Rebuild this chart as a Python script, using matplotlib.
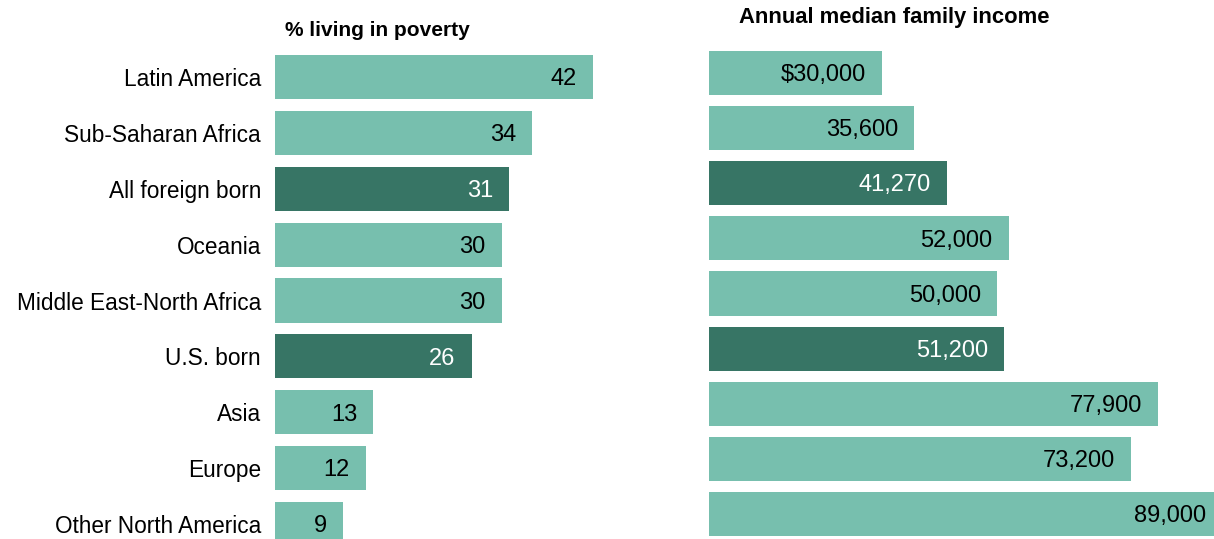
import matplotlib.pyplot as plt
from matplotlib import font_manager

categories = ["Latin America", "Sub-Saharan Africa", "All foreign born", "Oceania",
              "Middle East-North Africa", "U.S. born", "Asia", "Europe",
              "Other North America"]
poverty = [42, 34, 31, 30, 30, 26, 13, 12, 9]
income = [30000, 35600, 41270, 52000, 50000, 51200, 77900, 73200, 89000]
income_labels = ["$30,000", "35,600", "41,270", "52,000", "50,000", "51,200",
                 "77,900", "73,200", "89,000"]
highlight = ["All foreign born", "U.S. born"]

light = "#77bfae"
dark = "#377565"

names = {f.name for f in font_manager.fontManager.ttflist}
font = "Liberation Sans Narrow" if "Liberation Sans Narrow" in names else "Liberation Sans"
plt.rcParams["font.family"] = [font, "DejaVu Sans"]

W, H = 1214, 539
fig = plt.figure(figsize=(W / 100, H / 100), dpi=100)


def px_axes(left, top, width, height):
    return fig.add_axes([left / W, (H - top - height) / H, width / W, height / H])


colors = [dark if c in highlight else light for c in categories]
ypos = list(range(len(categories)))

# left panel: poverty rate
ax1 = px_axes(275, 49, 420, 503)
ax1.barh(ypos, poverty, height=0.79, color=colors)
ax1.set_xlim(0, 420 / 7.56)
ax1.set_ylim(8.5, -0.5)
ax1.set_yticks(ypos)
ax1.set_yticklabels(categories, fontsize=16.3)
ax1.tick_params(axis="y", length=0, pad=10)
ax1.set_xticks([])
for s in ax1.spines.values():
    s.set_visible(False)
for y, v, c in zip(ypos, poverty, colors):
    ax1.text(v - 16 / 7.56, y + 0.04, str(v), ha="right", va="center", fontsize=17,
             color="white" if c == dark else "black")
fig.text(285 / W, 1 - 30 / H, "% living in poverty", fontsize=15, fontweight="bold",
         ha="left", va="center")

# right panel: median family income
scale = 0.005764
ax2 = px_axes(709, 45.5, 530, 496)
ax2.barh(ypos, income, height=0.8, color=colors)
ax2.set_xlim(0, 530 / scale)
ax2.set_ylim(8.5, -0.5)
ax2.set_xticks([])
ax2.set_yticks([])
for s in ax2.spines.values():
    s.set_visible(False)
for y, v, lab, c in zip(ypos, income, income_labels, colors):
    ax2.text(v - 16 / scale, y + 0.04, lab, ha="right", va="center", fontsize=17,
             color="white" if c == dark else "black")
fig.text(739 / W, 1 - 18 / H, "Annual median family income", fontsize=15.8,
         fontweight="bold", ha="left", va="center")

fig.savefig("out.png", dpi=100)
